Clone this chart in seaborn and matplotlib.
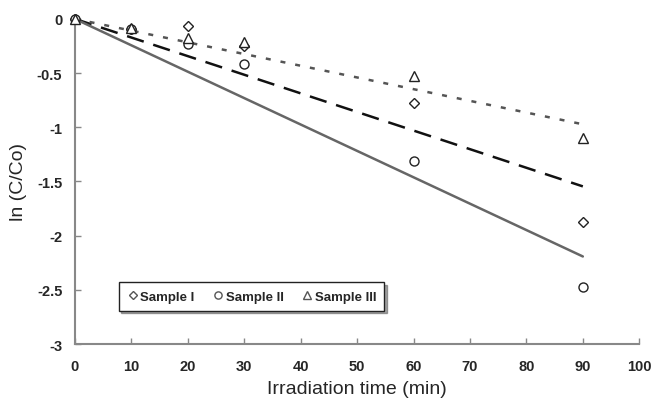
import numpy as np
import pandas as pd
import matplotlib
matplotlib.use("Agg")
import matplotlib.pyplot as plt
import seaborn as sns

time_min = [0, 10, 20, 30, 60, 90]
sample_i = [0.0, -0.09, -0.07, -0.25, -0.78, -1.87]
sample_ii = [0.0, -0.09, -0.23, -0.42, -1.31, -2.47]
sample_iii = [0.0, -0.08, -0.18, -0.21, -0.53, -1.10]
labels = ["Sample I", "Sample II", "Sample III"]
x_ticks = [0, 10, 20, 30, 40, 50, 60, 70, 80, 90, 100]
y_ticks = [0, -0.5, -1, -1.5, -2, -2.5, -3]
y_tick_labels = ["0", "-0.5", "-1", "-1.5", "-2", "-2.5", "-3"]

sns.set_theme(style="white")
plt.rcParams['font.family'] = ['Liberation Sans', 'DejaVu Sans']

fig = plt.figure(figsize=(6.51, 4.06), dpi=100)
ax = fig.add_axes([0.115, 0.150, 0.867, 0.801])

series = [sample_i, sample_ii, sample_iii]
markers = ["D", "o", "^"]
msizes = [5, 6.5, 7.5]
line_styles = [(0, (7, 4)), "-", (0, (2, 4))]
line_colors = ["#111111", "#666666", "#555555"]
line_widths = [1.8, 1.8, 1.8]

x = np.array(time_min, dtype=float)
# trend lines through origin
for vals, ls, lc, lw in zip(series, line_styles, line_colors, line_widths):
    y = np.array(vals)
    slope = np.sum(x * y) / np.sum(x * x)
    xs = np.array([0.0, 90.0])
    df = pd.DataFrame({"t": xs, "v": slope * xs})
    sns.lineplot(data=df, x="t", y="v", ax=ax, color=lc, linestyle=ls,
                 linewidth=lw, legend=False)

handles = []
for vals, m, ms, lab in zip(series, markers, msizes, labels):
    h, = ax.plot(time_min, vals, linestyle="none", marker=m, markersize=ms,
                 markerfacecolor="white", markeredgecolor="#222222",
                 markeredgewidth=1.0, clip_on=False, label=lab, zorder=5)
    handles.append(h)

ax.set_xlim(0, 100)
ax.set_ylim(-3, 0)
ax.set_xticks(x_ticks)
ax.set_xticklabels([str(t) for t in x_ticks])
ax.set_yticks(y_ticks)
ax.set_yticklabels(y_tick_labels)
for lab in ax.get_xticklabels() + ax.get_yticklabels():
    lab.set_fontweight("bold")
    lab.set_fontsize(10.5)
ax.tick_params(axis="x", direction="in", length=4, width=1, color="#888888",
               bottom=True, pad=11)
ax.tick_params(axis="y", direction="in", length=4, width=1, color="#888888",
               left=True, pad=9)
for s in ["top", "right"]:
    ax.spines[s].set_visible(False)
for s in ["left", "bottom"]:
    ax.spines[s].set_color("#888888")
    ax.spines[s].set_linewidth(1.5)

ax.set_xlabel("Irradiation time (min)", fontsize=14, labelpad=5)
ax.set_ylabel("ln (C/Co)", fontsize=14, labelpad=7)

leg = ax.legend(handles=handles, loc="lower left", bbox_to_anchor=(0.066, 0.083),
                ncol=3, frameon=True, fancybox=False, shadow=True,
                prop={"weight": "bold", "size": 9.5}, handletextpad=0.05,
                columnspacing=1.3, borderpad=0.6, handlelength=1.0,
                markerscale=0.8)
leg.get_frame().set_edgecolor("#222222")
leg.get_frame().set_linewidth(1.0)
for h in leg.legend_handles:
    h.set_markeredgecolor("#555555")

fig.savefig("out.png", dpi=100)
